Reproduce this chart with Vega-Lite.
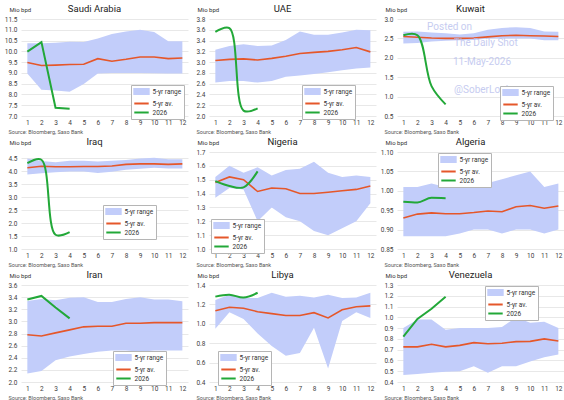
{
  "$schema": "https://vega.github.io/schema/vega-lite/v6.json",
  "autosize": {"type": "pad"},
  "padding": {"left": 4, "top": 4, "right": 0, "bottom": 0},
  "background": "white",
  "datasets": {
    "wm": [
      {"t": "Posted on", "m": 2.68, "v": 2.79},
      {"t": "The Daily Shot", "m": 4.6, "v": 2.38},
      {"t": "11-May-2026", "m": 4.52, "v": 1.9},
      {"t": "@SoberLook", "m": 4.6, "v": 1.16}
    ]
  },
  "data": {"values": [
    {"c":"Saudi Arabia","m":1,"lo":8.97,"hi":10.37,"av":9.48,"y26":9.99},
    {"c":"Saudi Arabia","m":2,"lo":8.22,"hi":10.38,"av":9.34,"y26":10.43},
    {"c":"Saudi Arabia","m":3,"lo":8.18,"hi":10.4,"av":9.36,"y26":7.38},
    {"c":"Saudi Arabia","m":4,"lo":8.13,"hi":10.44,"av":9.39,"y26":7.34},
    {"c":"Saudi Arabia","m":5,"lo":8.48,"hi":10.43,"av":9.4},
    {"c":"Saudi Arabia","m":6,"lo":8.97,"hi":10.6,"av":9.66},
    {"c":"Saudi Arabia","m":7,"lo":9.0,"hi":10.8,"av":9.54},
    {"c":"Saudi Arabia","m":8,"lo":9.0,"hi":10.92,"av":9.63},
    {"c":"Saudi Arabia","m":9,"lo":9.0,"hi":11.0,"av":9.74},
    {"c":"Saudi Arabia","m":10,"lo":8.98,"hi":10.9,"av":9.74},
    {"c":"Saudi Arabia","m":11,"lo":8.97,"hi":10.47,"av":9.66},
    {"c":"Saudi Arabia","m":12,"lo":8.97,"hi":10.47,"av":9.69},
    {"c":"UAE","m":1,"lo":2.62,"hi":3.23,"av":3.03,"y26":3.56},
    {"c":"UAE","m":2,"lo":2.65,"hi":3.30,"av":3.05,"y26":3.63},
    {"c":"UAE","m":3,"lo":2.65,"hi":3.33,"av":3.06,"y26":2.10},
    {"c":"UAE","m":4,"lo":2.62,"hi":3.30,"av":3.04,"y26":2.14},
    {"c":"UAE","m":5,"lo":2.65,"hi":3.31,"av":3.07},
    {"c":"UAE","m":6,"lo":2.73,"hi":3.41,"av":3.11},
    {"c":"UAE","m":7,"lo":2.75,"hi":3.57,"av":3.16},
    {"c":"UAE","m":8,"lo":2.78,"hi":3.51,"av":3.18},
    {"c":"UAE","m":9,"lo":2.81,"hi":3.51,"av":3.2},
    {"c":"UAE","m":10,"lo":2.85,"hi":3.55,"av":3.23},
    {"c":"UAE","m":11,"lo":2.88,"hi":3.6,"av":3.27},
    {"c":"UAE","m":12,"lo":2.9,"hi":3.59,"av":3.19},
    {"c":"Kuwait","m":1,"lo":2.37,"hi":2.67,"av":2.55,"y26":2.58},
    {"c":"Kuwait","m":2,"lo":2.38,"hi":2.68,"av":2.53,"y26":2.58},
    {"c":"Kuwait","m":3,"lo":2.42,"hi":2.65,"av":2.51,"y26":1.27},
    {"c":"Kuwait","m":4,"lo":2.44,"hi":2.63,"av":2.5,"y26":0.8},
    {"c":"Kuwait","m":5,"lo":2.45,"hi":2.6,"av":2.5},
    {"c":"Kuwait","m":6,"lo":2.46,"hi":2.63,"av":2.51},
    {"c":"Kuwait","m":7,"lo":2.5,"hi":2.72,"av":2.54},
    {"c":"Kuwait","m":8,"lo":2.5,"hi":2.77,"av":2.57},
    {"c":"Kuwait","m":9,"lo":2.5,"hi":2.79,"av":2.58},
    {"c":"Kuwait","m":10,"lo":2.5,"hi":2.77,"av":2.57},
    {"c":"Kuwait","m":11,"lo":2.45,"hi":2.68,"av":2.56},
    {"c":"Kuwait","m":12,"lo":2.45,"hi":2.67,"av":2.55},
    {"c":"Iraq","m":1,"lo":3.88,"hi":4.5,"av":4.14,"y26":4.32},
    {"c":"Iraq","m":2,"lo":3.93,"hi":4.4,"av":4.2,"y26":4.45},
    {"c":"Iraq","m":3,"lo":3.97,"hi":4.35,"av":4.18,"y26":1.55},
    {"c":"Iraq","m":4,"lo":4.0,"hi":4.41,"av":4.18,"y26":1.65},
    {"c":"Iraq","m":5,"lo":4.0,"hi":4.41,"av":4.19},
    {"c":"Iraq","m":6,"lo":3.94,"hi":4.38,"av":4.19},
    {"c":"Iraq","m":7,"lo":3.99,"hi":4.41,"av":4.21},
    {"c":"Iraq","m":8,"lo":4.06,"hi":4.44,"av":4.27},
    {"c":"Iraq","m":9,"lo":4.1,"hi":4.5,"av":4.29},
    {"c":"Iraq","m":10,"lo":4.14,"hi":4.53,"av":4.29},
    {"c":"Iraq","m":11,"lo":4.11,"hi":4.47,"av":4.27},
    {"c":"Iraq","m":12,"lo":4.11,"hi":4.47,"av":4.29},
    {"c":"Nigeria","m":1,"lo":1.37,"hi":1.52,"av":1.48,"y26":1.49},
    {"c":"Nigeria","m":2,"lo":1.44,"hi":1.6,"av":1.52,"y26":1.455},
    {"c":"Nigeria","m":3,"lo":1.43,"hi":1.55,"av":1.5,"y26":1.445},
    {"c":"Nigeria","m":4,"lo":1.2,"hi":1.59,"av":1.415,"y26":1.56},
    {"c":"Nigeria","m":5,"lo":1.3,"hi":1.53,"av":1.44},
    {"c":"Nigeria","m":6,"lo":1.23,"hi":1.57,"av":1.435},
    {"c":"Nigeria","m":7,"lo":1.2,"hi":1.58,"av":1.4},
    {"c":"Nigeria","m":8,"lo":1.13,"hi":1.63,"av":1.4},
    {"c":"Nigeria","m":9,"lo":1.1,"hi":1.55,"av":1.41},
    {"c":"Nigeria","m":10,"lo":1.15,"hi":1.52,"av":1.42},
    {"c":"Nigeria","m":11,"lo":1.2,"hi":1.53,"av":1.43},
    {"c":"Nigeria","m":12,"lo":1.33,"hi":1.52,"av":1.455},
    {"c":"Algeria","m":1,"lo":0.883,"hi":1.01,"av":0.93,"y26":0.972},
    {"c":"Algeria","m":2,"lo":0.883,"hi":1.01,"av":0.94,"y26":0.97},
    {"c":"Algeria","m":3,"lo":0.883,"hi":1.019,"av":0.943,"y26":0.982},
    {"c":"Algeria","m":4,"lo":0.883,"hi":1.01,"av":0.941,"y26":0.981},
    {"c":"Algeria","m":5,"lo":0.89,"hi":1.019,"av":0.941},
    {"c":"Algeria","m":6,"lo":0.9,"hi":1.02,"av":0.944},
    {"c":"Algeria","m":7,"lo":0.9,"hi":1.02,"av":0.948},
    {"c":"Algeria","m":8,"lo":0.89,"hi":1.03,"av":0.946},
    {"c":"Algeria","m":9,"lo":0.9,"hi":1.04,"av":0.959},
    {"c":"Algeria","m":10,"lo":0.9,"hi":1.05,"av":0.962},
    {"c":"Algeria","m":11,"lo":0.89,"hi":1.01,"av":0.955},
    {"c":"Algeria","m":12,"lo":0.9,"hi":1.019,"av":0.961},
    {"c":"Iran","m":1,"lo":2.14,"hi":3.335,"av":2.78,"y26":3.36},
    {"c":"Iran","m":2,"lo":2.18,"hi":3.37,"av":2.76,"y26":3.42},
    {"c":"Iran","m":3,"lo":2.36,"hi":3.35,"av":2.81,"y26":3.23},
    {"c":"Iran","m":4,"lo":2.42,"hi":3.39,"av":2.86,"y26":3.05},
    {"c":"Iran","m":5,"lo":2.46,"hi":3.4,"av":2.91},
    {"c":"Iran","m":6,"lo":2.5,"hi":3.32,"av":2.92},
    {"c":"Iran","m":7,"lo":2.52,"hi":3.32,"av":2.92},
    {"c":"Iran","m":8,"lo":2.52,"hi":3.37,"av":2.97},
    {"c":"Iran","m":9,"lo":2.5,"hi":3.4,"av":2.97},
    {"c":"Iran","m":10,"lo":2.52,"hi":3.36,"av":2.98},
    {"c":"Iran","m":11,"lo":2.52,"hi":3.36,"av":2.98},
    {"c":"Iran","m":12,"lo":2.52,"hi":3.33,"av":2.98},
    {"c":"Libya","m":1,"lo":0.95,"hi":1.245,"av":1.135,"y26":1.28},
    {"c":"Libya","m":2,"lo":1.12,"hi":1.3,"av":1.17,"y26":1.3},
    {"c":"Libya","m":3,"lo":1.05,"hi":1.265,"av":1.16,"y26":1.27},
    {"c":"Libya","m":4,"lo":0.9,"hi":1.265,"av":1.125,"y26":1.32},
    {"c":"Libya","m":5,"lo":0.77,"hi":1.32,"av":1.105},
    {"c":"Libya","m":6,"lo":0.67,"hi":1.28,"av":1.085},
    {"c":"Libya","m":7,"lo":0.7,"hi":1.29,"av":1.085},
    {"c":"Libya","m":8,"lo":0.96,"hi":1.27,"av":1.115},
    {"c":"Libya","m":9,"lo":0.54,"hi":1.3,"av":1.06},
    {"c":"Libya","m":10,"lo":1.03,"hi":1.265,"av":1.145},
    {"c":"Libya","m":11,"lo":1.12,"hi":1.27,"av":1.175},
    {"c":"Libya","m":12,"lo":1.06,"hi":1.32,"av":1.185},
    {"c":"Venezuela","m":1,"lo":0.465,"hi":0.9,"av":0.726,"y26":0.82},
    {"c":"Venezuela","m":2,"lo":0.475,"hi":0.98,"av":0.726,"y26":0.985},
    {"c":"Venezuela","m":3,"lo":0.485,"hi":0.98,"av":0.75,"y26":1.08},
    {"c":"Venezuela","m":4,"lo":0.495,"hi":0.885,"av":0.726,"y26":1.19},
    {"c":"Venezuela","m":5,"lo":0.5,"hi":0.9,"av":0.74},
    {"c":"Venezuela","m":6,"lo":0.545,"hi":0.9,"av":0.765},
    {"c":"Venezuela","m":7,"lo":0.485,"hi":0.9,"av":0.755},
    {"c":"Venezuela","m":8,"lo":0.545,"hi":0.91,"av":0.76},
    {"c":"Venezuela","m":9,"lo":0.545,"hi":1.0,"av":0.775},
    {"c":"Venezuela","m":10,"lo":0.59,"hi":0.95,"av":0.777},
    {"c":"Venezuela","m":11,"lo":0.63,"hi":0.96,"av":0.8},
    {"c":"Venezuela","m":12,"lo":0.655,"hi":0.9,"av":0.78}
  ]},
  "columns": 3,
  "spacing": {"row": 36, "column": 21},
  "bounds": "flush",
  "resolve": {"scale": {"color": "independent"}, "legend": {"color": "independent"}},
  "concat": [
    {
      "title": "Saudi Arabia", "width": 167, "height": 97,
      "transform": [{"filter": "datum.c === 'Saudi Arabia'"}],
      "encoding": {"x": {"field": "m", "type": "quantitative", "scale": {"domain": [0.55, 12.4], "nice": false}, "axis": {"values": [1,2,3,4,5,6,7,8,9,10,11,12], "title": "Source: Bloomberg, Saxo Bank"}}},
      "layer": [
        {"mark": {"type": "area"}, "encoding": {
          "y": {"field": "lo", "type": "quantitative", "scale": {"domain": [7, 11.5], "nice": false, "zero": false}, "axis": {"values": [7,7.5,8,8.5,9,9.5,10,10.5,11,11.5], "format": ".1f", "title": "Mio bpd"}},
          "y2": {"field": "hi"},
          "color": {"datum": "5-yr range", "scale": {"domain": ["5-yr range","5-yr av.","2026"], "range": ["#c2cdfa","#e5572a","#22a838"]},
            "legend": {"orient": "none", "legendX": 110, "legendY": 66, "title": null, "encode": {"symbols": {"update": {
              "shape": [{"test": "datum.value === '5-yr range'", "value": "M-2.4,-0.8H2.4V0.8H-2.4Z"}, {"value": "M-2.4,0H2.4"}],
              "fill": [{"test": "datum.value === '5-yr range'", "value": "#c2cdfa"}, {"value": "transparent"}],
              "stroke": [{"test": "datum.value === '5-yr range'", "value": "transparent"}, {"test": "datum.value === '5-yr av.'", "value": "#e5572a"}, {"value": "#22a838"}],
              "strokeWidth": {"value": 2}}}}}}}},
        {"mark": {"type": "line", "strokeWidth": 1.6}, "encoding": {"y": {"field": "av", "type": "quantitative", "axis": {"values": [7,7.5,8,8.5,9,9.5,10,10.5,11,11.5], "format": ".1f", "title": "Mio bpd"}}, "color": {"datum": "5-yr av."}}},
        {"mark": {"type": "line", "strokeWidth": 2, "interpolate": "linear"}, "encoding": {"y": {"field": "y26", "type": "quantitative", "axis": {"values": [7,7.5,8,8.5,9,9.5,10,10.5,11,11.5], "format": ".1f", "title": "Mio bpd"}}, "color": {"datum": "2026"}}}
      ]
    },
    {
      "title": "UAE", "width": 167, "height": 97,
      "transform": [{"filter": "datum.c === 'UAE'"}],
      "encoding": {"x": {"field": "m", "type": "quantitative", "scale": {"domain": [0.55, 12.4], "nice": false}, "axis": {"values": [1,2,3,4,5,6,7,8,9,10,11,12], "title": "Source: Bloomberg, Saxo Bank"}}},
      "layer": [
        {"mark": {"type": "area"}, "encoding": {
          "y": {"field": "lo", "type": "quantitative", "scale": {"domain": [2.0, 3.8], "nice": false, "zero": false}, "axis": {"values": [2.0,2.2,2.4,2.6,2.8,3.0,3.2,3.4,3.6,3.8], "format": ".1f", "title": "Mio bpd"}},
          "y2": {"field": "hi"},
          "color": {"datum": "5-yr range", "scale": {"domain": ["5-yr range","5-yr av.","2026"], "range": ["#c2cdfa","#e5572a","#22a838"]},
            "legend": {"orient": "none", "legendX": 93, "legendY": 66, "title": null, "encode": {"symbols": {"update": {
              "shape": [{"test": "datum.value === '5-yr range'", "value": "M-2.4,-0.8H2.4V0.8H-2.4Z"}, {"value": "M-2.4,0H2.4"}],
              "fill": [{"test": "datum.value === '5-yr range'", "value": "#c2cdfa"}, {"value": "transparent"}],
              "stroke": [{"test": "datum.value === '5-yr range'", "value": "transparent"}, {"test": "datum.value === '5-yr av.'", "value": "#e5572a"}, {"value": "#22a838"}],
              "strokeWidth": {"value": 2}}}}}}}},
        {"mark": {"type": "line", "strokeWidth": 1.6}, "encoding": {"y": {"field": "av", "type": "quantitative", "axis": {"values": [2.0,2.2,2.4,2.6,2.8,3.0,3.2,3.4,3.6,3.8], "format": ".1f", "title": "Mio bpd"}}, "color": {"datum": "5-yr av."}}},
        {"mark": {"type": "line", "strokeWidth": 2, "interpolate": "catmull-rom"}, "encoding": {"y": {"field": "y26", "type": "quantitative", "axis": {"values": [2.0,2.2,2.4,2.6,2.8,3.0,3.2,3.4,3.6,3.8], "format": ".1f", "title": "Mio bpd"}}, "color": {"datum": "2026"}}}
      ]
    },
    {
      "title": "Kuwait", "width": 167, "height": 97,
      "layer": [
        {"transform": [{"filter": "datum.c === 'Kuwait'"}], "mark": {"type": "area"}, "encoding": {
          "x": {"field": "m", "type": "quantitative", "scale": {"domain": [0.55, 12.4], "nice": false}, "axis": {"values": [1,2,3,4,5,6,7,8,9,10,11,12], "title": "Source: Bloomberg, Saxo Bank"}},
          "y": {"field": "lo", "type": "quantitative", "scale": {"domain": [0.5, 3.0], "nice": false, "zero": false}, "axis": {"values": [0.5,1.0,1.5,2.0,2.5,3.0], "format": ".1f", "title": "Mio bpd"}},
          "y2": {"field": "hi"},
          "color": {"datum": "5-yr range", "scale": {"domain": ["5-yr range","5-yr av.","2026"], "range": ["#c2cdfa","#e5572a","#22a838"]},
            "legend": {"orient": "none", "legendX": 103, "legendY": 67, "title": null, "encode": {"symbols": {"update": {
              "shape": [{"test": "datum.value === '5-yr range'", "value": "M-2.4,-0.8H2.4V0.8H-2.4Z"}, {"value": "M-2.4,0H2.4"}],
              "fill": [{"test": "datum.value === '5-yr range'", "value": "#c2cdfa"}, {"value": "transparent"}],
              "stroke": [{"test": "datum.value === '5-yr range'", "value": "transparent"}, {"test": "datum.value === '5-yr av.'", "value": "#e5572a"}, {"value": "#22a838"}],
              "strokeWidth": {"value": 2}}}}}}}},
        {"transform": [{"filter": "datum.c === 'Kuwait'"}], "mark": {"type": "line", "strokeWidth": 1.6}, "encoding": {
          "x": {"field": "m", "type": "quantitative", "axis": {"values": [1,2,3,4,5,6,7,8,9,10,11,12], "title": "Source: Bloomberg, Saxo Bank"}},
          "y": {"field": "av", "type": "quantitative", "axis": {"values": [0.5,1.0,1.5,2.0,2.5,3.0], "format": ".1f", "title": "Mio bpd"}}, "color": {"datum": "5-yr av."}}},
        {"transform": [{"filter": "datum.c === 'Kuwait'"}], "mark": {"type": "line", "strokeWidth": 2, "interpolate": "catmull-rom"}, "encoding": {
          "x": {"field": "m", "type": "quantitative", "axis": {"values": [1,2,3,4,5,6,7,8,9,10,11,12], "title": "Source: Bloomberg, Saxo Bank"}},
          "y": {"field": "y26", "type": "quantitative", "axis": {"values": [0.5,1.0,1.5,2.0,2.5,3.0], "format": ".1f", "title": "Mio bpd"}}, "color": {"datum": "2026"}}},
        {"data": {"name": "wm"}, "mark": {"type": "text", "align": "left", "baseline": "middle", "fontSize": 10, "font": "Roboto", "color": "#b9bfee", "opacity": 0.8}, "encoding": {
          "x": {"field": "m", "type": "quantitative", "axis": {"values": [1,2,3,4,5,6,7,8,9,10,11,12], "title": "Source: Bloomberg, Saxo Bank"}},
          "y": {"field": "v", "type": "quantitative", "axis": {"values": [0.5,1.0,1.5,2.0,2.5,3.0], "format": ".1f", "title": "Mio bpd"}},
          "text": {"field": "t"}}}
      ]
    },
    {
      "title": "Iraq", "width": 167, "height": 97,
      "transform": [{"filter": "datum.c === 'Iraq'"}],
      "encoding": {"x": {"field": "m", "type": "quantitative", "scale": {"domain": [0.55, 12.4], "nice": false}, "axis": {"values": [1,2,3,4,5,6,7,8,9,10,11,12], "title": "Source: Bloomberg, Saxo Bank"}}},
      "layer": [
        {"mark": {"type": "area"}, "encoding": {
          "y": {"field": "lo", "type": "quantitative", "scale": {"domain": [1.0, 4.75], "nice": false, "zero": false}, "axis": {"values": [1.0,1.5,2.0,2.5,3.0,3.5,4.0,4.5], "format": ".1f", "title": "Mio bpd"}},
          "y2": {"field": "hi"},
          "color": {"datum": "5-yr range", "scale": {"domain": ["5-yr range","5-yr av.","2026"], "range": ["#c2cdfa","#e5572a","#22a838"]},
            "legend": {"orient": "none", "legendX": 82, "legendY": 53, "title": null, "encode": {"symbols": {"update": {
              "shape": [{"test": "datum.value === '5-yr range'", "value": "M-2.4,-0.8H2.4V0.8H-2.4Z"}, {"value": "M-2.4,0H2.4"}],
              "fill": [{"test": "datum.value === '5-yr range'", "value": "#c2cdfa"}, {"value": "transparent"}],
              "stroke": [{"test": "datum.value === '5-yr range'", "value": "transparent"}, {"test": "datum.value === '5-yr av.'", "value": "#e5572a"}, {"value": "#22a838"}],
              "strokeWidth": {"value": 2}}}}}}}},
        {"mark": {"type": "line", "strokeWidth": 1.6}, "encoding": {"y": {"field": "av", "type": "quantitative", "axis": {"values": [1.0,1.5,2.0,2.5,3.0,3.5,4.0,4.5], "format": ".1f", "title": "Mio bpd"}}, "color": {"datum": "5-yr av."}}},
        {"mark": {"type": "line", "strokeWidth": 2, "interpolate": "catmull-rom"}, "encoding": {"y": {"field": "y26", "type": "quantitative", "axis": {"values": [1.0,1.5,2.0,2.5,3.0,3.5,4.0,4.5], "format": ".1f", "title": "Mio bpd"}}, "color": {"datum": "2026"}}}
      ]
    },
    {
      "title": "Nigeria", "width": 167, "height": 97,
      "transform": [{"filter": "datum.c === 'Nigeria'"}],
      "encoding": {"x": {"field": "m", "type": "quantitative", "scale": {"domain": [0.55, 12.4], "nice": false}, "axis": {"values": [1,2,3,4,5,6,7,8,9,10,11,12], "title": "Source: Bloomberg, Saxo Bank"}}},
      "layer": [
        {"mark": {"type": "area"}, "encoding": {
          "y": {"field": "lo", "type": "quantitative", "scale": {"domain": [1.0, 1.7], "nice": false, "zero": false}, "axis": {"values": [1.0,1.1,1.2,1.3,1.4,1.5,1.6,1.7], "format": ".1f", "title": "Mio bpd"}},
          "y2": {"field": "hi"},
          "color": {"datum": "5-yr range", "scale": {"domain": ["5-yr range","5-yr av.","2026"], "range": ["#c2cdfa","#e5572a","#22a838"]},
            "legend": {"orient": "none", "legendX": 2, "legendY": 67, "title": null, "encode": {"symbols": {"update": {
              "shape": [{"test": "datum.value === '5-yr range'", "value": "M-2.4,-0.8H2.4V0.8H-2.4Z"}, {"value": "M-2.4,0H2.4"}],
              "fill": [{"test": "datum.value === '5-yr range'", "value": "#c2cdfa"}, {"value": "transparent"}],
              "stroke": [{"test": "datum.value === '5-yr range'", "value": "transparent"}, {"test": "datum.value === '5-yr av.'", "value": "#e5572a"}, {"value": "#22a838"}],
              "strokeWidth": {"value": 2}}}}}}}},
        {"mark": {"type": "line", "strokeWidth": 1.6}, "encoding": {"y": {"field": "av", "type": "quantitative", "axis": {"values": [1.0,1.1,1.2,1.3,1.4,1.5,1.6,1.7], "format": ".1f", "title": "Mio bpd"}}, "color": {"datum": "5-yr av."}}},
        {"mark": {"type": "line", "strokeWidth": 2, "interpolate": "catmull-rom"}, "encoding": {"y": {"field": "y26", "type": "quantitative", "axis": {"values": [1.0,1.1,1.2,1.3,1.4,1.5,1.6,1.7], "format": ".1f", "title": "Mio bpd"}}, "color": {"datum": "2026"}}}
      ]
    },
    {
      "title": "Algeria", "width": 167, "height": 97,
      "transform": [{"filter": "datum.c === 'Algeria'"}],
      "encoding": {"x": {"field": "m", "type": "quantitative", "scale": {"domain": [0.55, 12.4], "nice": false}, "axis": {"values": [1,2,3,4,5,6,7,8,9,10,11,12], "title": "Source: Bloomberg, Saxo Bank"}}},
      "layer": [
        {"mark": {"type": "area"}, "encoding": {
          "y": {"field": "lo", "type": "quantitative", "scale": {"domain": [0.85, 1.1], "nice": false, "zero": false}, "axis": {"values": [0.85,0.9,0.95,1.0,1.05,1.1], "format": ".2f", "title": "Mio bpd"}},
          "y2": {"field": "hi"},
          "color": {"datum": "5-yr range", "scale": {"domain": ["5-yr range","5-yr av.","2026"], "range": ["#c2cdfa","#e5572a","#22a838"]},
            "legend": {"orient": "none", "legendX": 41, "legendY": 1, "title": null, "encode": {"symbols": {"update": {
              "shape": [{"test": "datum.value === '5-yr range'", "value": "M-2.4,-0.8H2.4V0.8H-2.4Z"}, {"value": "M-2.4,0H2.4"}],
              "fill": [{"test": "datum.value === '5-yr range'", "value": "#c2cdfa"}, {"value": "transparent"}],
              "stroke": [{"test": "datum.value === '5-yr range'", "value": "transparent"}, {"test": "datum.value === '5-yr av.'", "value": "#e5572a"}, {"value": "#22a838"}],
              "strokeWidth": {"value": 2}}}}}}}},
        {"mark": {"type": "line", "strokeWidth": 1.6}, "encoding": {"y": {"field": "av", "type": "quantitative", "axis": {"values": [0.85,0.9,0.95,1.0,1.05,1.1], "format": ".2f", "title": "Mio bpd"}}, "color": {"datum": "5-yr av."}}},
        {"mark": {"type": "line", "strokeWidth": 2, "interpolate": "monotone"}, "encoding": {"y": {"field": "y26", "type": "quantitative", "axis": {"values": [0.85,0.9,0.95,1.0,1.05,1.1], "format": ".2f", "title": "Mio bpd"}}, "color": {"datum": "2026"}}}
      ]
    },
    {
      "title": "Iran", "width": 167, "height": 97,
      "transform": [{"filter": "datum.c === 'Iran'"}],
      "encoding": {"x": {"field": "m", "type": "quantitative", "scale": {"domain": [0.55, 12.4], "nice": false}, "axis": {"values": [1,2,3,4,5,6,7,8,9,10,11,12], "title": "Source: Bloomberg, Saxo Bank"}}},
      "layer": [
        {"mark": {"type": "area"}, "encoding": {
          "y": {"field": "lo", "type": "quantitative", "scale": {"domain": [2.0, 3.6], "nice": false, "zero": false}, "axis": {"values": [2.0,2.2,2.4,2.6,2.8,3.0,3.2,3.4,3.6], "format": ".1f", "title": "Mio bpd"}},
          "y2": {"field": "hi"},
          "color": {"datum": "5-yr range", "scale": {"domain": ["5-yr range","5-yr av.","2026"], "range": ["#c2cdfa","#e5572a","#22a838"]},
            "legend": {"orient": "none", "legendX": 92, "legendY": 66, "title": null, "encode": {"symbols": {"update": {
              "shape": [{"test": "datum.value === '5-yr range'", "value": "M-2.4,-0.8H2.4V0.8H-2.4Z"}, {"value": "M-2.4,0H2.4"}],
              "fill": [{"test": "datum.value === '5-yr range'", "value": "#c2cdfa"}, {"value": "transparent"}],
              "stroke": [{"test": "datum.value === '5-yr range'", "value": "transparent"}, {"test": "datum.value === '5-yr av.'", "value": "#e5572a"}, {"value": "#22a838"}],
              "strokeWidth": {"value": 2}}}}}}}},
        {"mark": {"type": "line", "strokeWidth": 1.6}, "encoding": {"y": {"field": "av", "type": "quantitative", "axis": {"values": [2.0,2.2,2.4,2.6,2.8,3.0,3.2,3.4,3.6], "format": ".1f", "title": "Mio bpd"}}, "color": {"datum": "5-yr av."}}},
        {"mark": {"type": "line", "strokeWidth": 2, "interpolate": "linear"}, "encoding": {"y": {"field": "y26", "type": "quantitative", "axis": {"values": [2.0,2.2,2.4,2.6,2.8,3.0,3.2,3.4,3.6], "format": ".1f", "title": "Mio bpd"}}, "color": {"datum": "2026"}}}
      ]
    },
    {
      "title": "Libya", "width": 167, "height": 97,
      "transform": [{"filter": "datum.c === 'Libya'"}],
      "encoding": {"x": {"field": "m", "type": "quantitative", "scale": {"domain": [0.55, 12.4], "nice": false}, "axis": {"values": [1,2,3,4,5,6,7,8,9,10,11,12], "title": "Source: Bloomberg, Saxo Bank"}}},
      "layer": [
        {"mark": {"type": "area"}, "encoding": {
          "y": {"field": "lo", "type": "quantitative", "scale": {"domain": [0.4, 1.4], "nice": false, "zero": false}, "axis": {"values": [0.4,0.6,0.8,1.0,1.2,1.4], "format": ".1f", "title": "Mio bpd"}},
          "y2": {"field": "hi"},
          "color": {"datum": "5-yr range", "scale": {"domain": ["5-yr range","5-yr av.","2026"], "range": ["#c2cdfa","#e5572a","#22a838"]},
            "legend": {"orient": "none", "legendX": 9, "legendY": 66, "title": null, "encode": {"symbols": {"update": {
              "shape": [{"test": "datum.value === '5-yr range'", "value": "M-2.4,-0.8H2.4V0.8H-2.4Z"}, {"value": "M-2.4,0H2.4"}],
              "fill": [{"test": "datum.value === '5-yr range'", "value": "#c2cdfa"}, {"value": "transparent"}],
              "stroke": [{"test": "datum.value === '5-yr range'", "value": "transparent"}, {"test": "datum.value === '5-yr av.'", "value": "#e5572a"}, {"value": "#22a838"}],
              "strokeWidth": {"value": 2}}}}}}}},
        {"mark": {"type": "line", "strokeWidth": 1.6}, "encoding": {"y": {"field": "av", "type": "quantitative", "axis": {"values": [0.4,0.6,0.8,1.0,1.2,1.4], "format": ".1f", "title": "Mio bpd"}}, "color": {"datum": "5-yr av."}}},
        {"mark": {"type": "line", "strokeWidth": 2, "interpolate": "catmull-rom"}, "encoding": {"y": {"field": "y26", "type": "quantitative", "axis": {"values": [0.4,0.6,0.8,1.0,1.2,1.4], "format": ".1f", "title": "Mio bpd"}}, "color": {"datum": "2026"}}}
      ]
    },
    {
      "title": "Venezuela", "width": 167, "height": 97,
      "transform": [{"filter": "datum.c === 'Venezuela'"}],
      "encoding": {"x": {"field": "m", "type": "quantitative", "scale": {"domain": [0.55, 12.4], "nice": false}, "axis": {"values": [1,2,3,4,5,6,7,8,9,10,11,12], "title": "Source: Bloomberg, Saxo Bank"}}},
      "layer": [
        {"mark": {"type": "area"}, "encoding": {
          "y": {"field": "lo", "type": "quantitative", "scale": {"domain": [0.4, 1.3], "nice": false, "zero": false}, "axis": {"values": [0.4,0.5,0.6,0.7,0.8,0.9,1.0,1.1,1.2,1.3], "format": ".1f", "title": "Mio bpd"}},
          "y2": {"field": "hi"},
          "color": {"datum": "5-yr range", "scale": {"domain": ["5-yr range","5-yr av.","2026"], "range": ["#c2cdfa","#e5572a","#22a838"]},
            "legend": {"orient": "none", "legendX": 88, "legendY": 1, "title": null, "encode": {"symbols": {"update": {
              "shape": [{"test": "datum.value === '5-yr range'", "value": "M-2.4,-0.8H2.4V0.8H-2.4Z"}, {"value": "M-2.4,0H2.4"}],
              "fill": [{"test": "datum.value === '5-yr range'", "value": "#c2cdfa"}, {"value": "transparent"}],
              "stroke": [{"test": "datum.value === '5-yr range'", "value": "transparent"}, {"test": "datum.value === '5-yr av.'", "value": "#e5572a"}, {"value": "#22a838"}],
              "strokeWidth": {"value": 2}}}}}}}},
        {"mark": {"type": "line", "strokeWidth": 1.6}, "encoding": {"y": {"field": "av", "type": "quantitative", "axis": {"values": [0.4,0.5,0.6,0.7,0.8,0.9,1.0,1.1,1.2,1.3], "format": ".1f", "title": "Mio bpd"}}, "color": {"datum": "5-yr av."}}},
        {"mark": {"type": "line", "strokeWidth": 2, "interpolate": "linear"}, "encoding": {"y": {"field": "y26", "type": "quantitative", "axis": {"values": [0.4,0.5,0.6,0.7,0.8,0.9,1.0,1.1,1.2,1.3], "format": ".1f", "title": "Mio bpd"}}, "color": {"datum": "2026"}}}
      ]
    }
  ],
  "config": {
    "font": "Roboto",
    "view": {"stroke": null},
    "axis": {"labelFont": "Roboto", "labelFontSize": 6.5, "labelColor": "#404040", "titleFont": "Roboto", "titleFontWeight": "normal", "titleColor": "#333333", "domain": false, "ticks": false, "gridColor": "#e2e2e2", "gridWidth": 0.8, "labelOverlap": false, "labelBound": false},
    "axisY": {"titleAngle": 0, "titleAlign": "left", "titleBaseline": "middle", "titleX": -12, "titleY": -9.5, "titleFontSize": 6, "labelPadding": 4, "grid": true, "minExtent": 0},
    "axisX": {"grid": false, "labelPadding": 3, "titleFontSize": 5.5, "titleAlign": "left", "titleBaseline": "middle", "titleX": -13, "titleY": 15, "titleColor": "#555555"},
    "title": {"font": "Roboto", "fontSize": 9.5, "fontWeight": "normal", "color": "#222222", "anchor": "middle", "frame": "group", "dx": -10, "offset": -7},
    "legend": {"fillColor": "#ffffff", "strokeColor": "#b5b5b5", "padding": 2.5, "rowPadding": 1, "labelFontSize": 6.5, "labelFont": "Roboto", "labelColor": "#333333", "symbolSize": 36, "symbolStrokeWidth": 0, "labelOffset": 7, "symbolOffset": 4, "cornerRadius": 0}
  }
}
